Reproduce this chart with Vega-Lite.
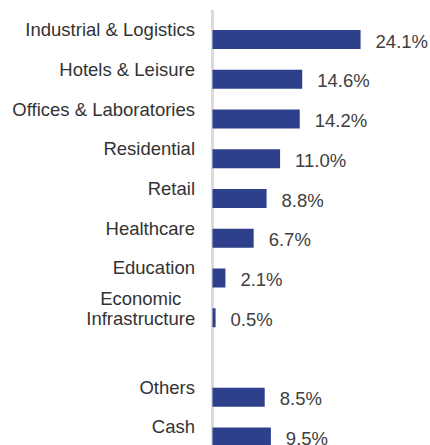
{
  "$schema": "https://vega.github.io/schema/vega-lite/v6.json",
  "width": 217.5,
  "height": 435,
  "padding": {"left": 212.5, "top": 10, "right": 0, "bottom": 0},
  "autosize": {"type": "none"},
  "background": "white",
  "config": {"view": {"stroke": null}},
  "data": {"values": [
    {"category": "Industrial & Logistics", "value": 0.241},
    {"category": "Hotels & Leisure", "value": 0.146},
    {"category": "Offices & Laboratories", "value": 0.142},
    {"category": "Residential", "value": 0.110},
    {"category": "Retail", "value": 0.088},
    {"category": "Healthcare", "value": 0.067},
    {"category": "Education", "value": 0.021},
    {"category": "Economic Infrastructure", "value": 0.005},
    {"category": "Others", "value": 0.085},
    {"category": "Cash", "value": 0.095}
  ]},
  "layer": [
    {
      "mark": {"type": "rule", "color": "#d9d9d9", "strokeWidth": 1.5},
      "encoding": {
        "x": {"datum": 0, "type": "quantitative", "scale": {"domain": [0, 0.354], "nice": false, "zero": true}, "axis": null}
      }
    },
    {
      "mark": {"type": "bar", "color": "#2E3F8C"},
      "encoding": {
        "y": {"field": "category", "type": "nominal", "sort": null,
              "scale": {"domain": ["Industrial & Logistics", "Hotels & Leisure", "Offices & Laboratories", "Residential", "Retail", "Healthcare", "Education", "Economic Infrastructure", "_gap", "Others", "Cash"], "range": [20, 436.5], "paddingInner": 0.522, "paddingOuter": 0},
              "axis": null},
        "x": {"field": "value", "type": "quantitative", "axis": null}
      }
    },
    {
      "mark": {"type": "text", "align": "left", "baseline": "alphabetic", "dx": 15, "dy": 8, "fontSize": 18.5, "font": "Liberation Sans", "color": "#404040"},
      "encoding": {
        "y": {"field": "category", "type": "nominal", "axis": null},
        "x": {"field": "value", "type": "quantitative", "axis": null},
        "text": {"field": "value", "type": "quantitative", "format": ".1%"}
      }
    },
    {
      "transform": [{"filter": "datum.category !== 'Economic Infrastructure'"}],
      "mark": {"type": "text", "align": "right", "baseline": "alphabetic", "dx": -17.5, "dy": -3.5, "fontSize": 18.5, "font": "Liberation Sans", "color": "#333333"},
      "encoding": {
        "y": {"field": "category", "type": "nominal", "axis": null},
        "x": {"datum": 0, "type": "quantitative", "axis": null},
        "text": {"field": "category", "type": "nominal"}
      }
    },
    {
      "transform": [{"filter": "datum.category === 'Economic Infrastructure'"}],
      "mark": {"type": "text", "align": "center", "baseline": "alphabetic", "dx": -71.75, "dy": -12.75, "lineBreak": " ", "lineHeight": 20, "fontSize": 18.5, "font": "Liberation Sans", "color": "#333333"},
      "encoding": {
        "y": {"field": "category", "type": "nominal", "axis": null},
        "x": {"datum": 0, "type": "quantitative", "axis": null},
        "text": {"field": "category", "type": "nominal"}
      }
    }
  ]
}
